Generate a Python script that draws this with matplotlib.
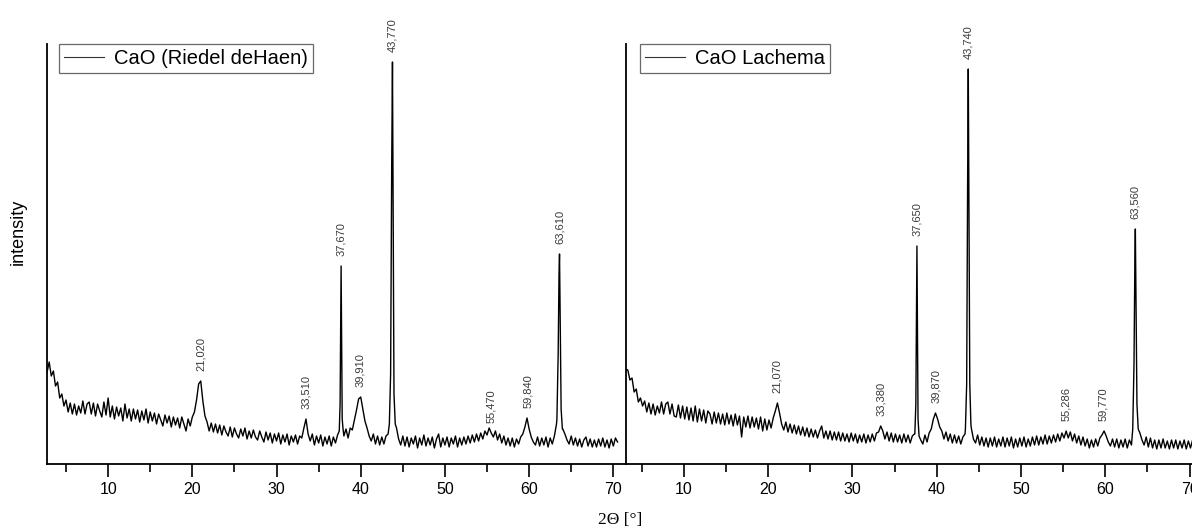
import numpy as np
import matplotlib
matplotlib.use("Agg")
import matplotlib.pyplot as plt

plt.rcParams['font.family'] = ['Liberation Sans', 'DejaVu Sans']

# left pattern: CaO (Riedel deHaen), scan read every 0.25 deg from 2.75
left_start = 2.75
left_step = 0.25
left_counts = [
    92, 102, 88, 93, 78, 82, 66, 70, 58, 64, 52, 61, 50, 60, 49, 58, 51, 63, 50, 60,
    62, 50, 61, 48, 60, 53, 47, 62, 49, 66, 47, 58, 45, 57, 48, 56, 43, 60, 46, 55,
    43, 55, 45, 54, 42, 53, 44, 55, 41, 52, 43, 51, 40, 50, 44, 38, 49, 41, 48, 37,
    47, 39, 46, 36, 47, 40, 33, 45, 38, 47, 52, 64, 80, 83, 63, 48, 42, 33, 41, 32,
    40, 31, 39, 29, 38, 32, 28, 37, 27, 36, 30, 26, 35, 28, 36, 25, 33, 26, 34, 27,
    24, 33, 27, 22, 32, 24, 31, 21, 30, 23, 31, 20, 29, 22, 30, 19, 28, 22, 29, 20,
    28, 26, 36, 45, 30, 23, 30, 19, 28, 21, 29, 18, 27, 20, 28, 18, 27, 21, 29, 32,
    40, 28, 35, 26, 36, 34, 44, 54, 65, 67, 55, 43, 36, 28, 23, 30, 20, 28, 19, 27,
    20, 28, 30, 60, 300, 60, 36, 25, 19, 28, 18, 27, 17, 26, 20, 28, 16, 26, 19, 29,
    18, 26, 19, 27, 16, 25, 30, 17, 26, 19, 27, 17, 26, 20, 28, 17, 26, 19, 27, 20,
    28, 21, 29, 22, 30, 23, 31, 25, 33, 29, 36, 31, 27, 33, 24, 30, 21, 28, 19, 26,
    18, 26, 17, 25, 20, 27, 30, 37, 46, 35, 27, 22, 19, 27, 18, 26, 19, 27, 17, 26,
    20, 28, 40, 150, 90, 35, 30, 24, 20, 28, 19, 26, 18, 25, 17, 24, 27, 18, 25, 17,
    24, 17, 25, 18, 26, 17, 24, 16, 25, 18, 26, 22,
]
left_peak_x = [
    [37.45, 37.55, 37.62, 37.67, 37.72, 37.80, 37.90],
    [43.40, 43.55, 43.68, 43.77, 43.85, 43.95, 44.10],
    [63.30, 63.45, 63.55, 63.61, 63.68, 63.80, 63.95],
]
left_peak_y = [
    [33, 60, 150, 198, 140, 45, 35],
    [40, 90, 300, 402, 250, 70, 40],
    [45, 110, 190, 210, 150, 55, 35],
]
left_label_x = [21.02, 33.51, 37.67, 39.91, 43.77, 55.47, 59.84, 63.61]
left_labels = ["21,020", "33,510", "37,670", "39,910", "43,770", "55,470", "59,840", "63,610"]

# right pattern: CaO Lachema, scan read every 0.25 deg from 3.1
right_start = 3.1
right_step = 0.25
right_counts = [
    95, 94, 84, 86, 72, 75, 62, 66, 58, 63, 52, 61, 50, 60, 49, 58, 51, 62, 50, 60,
    62, 50, 60, 48, 47, 59, 46, 58, 45, 57, 44, 56, 43, 58, 42, 55, 43, 54, 41, 53,
    50, 40, 52, 41, 51, 40, 50, 39, 51, 40, 49, 38, 50, 39, 48, 27, 47, 37, 48, 36,
    47, 37, 46, 35, 47, 33, 45, 34, 44, 36, 46, 53, 61, 51, 40, 34, 42, 32, 40, 31,
    39, 30, 38, 29, 37, 28, 36, 27, 35, 27, 34, 26, 33, 38, 26, 33, 25, 33, 24, 32,
    24, 32, 23, 31, 23, 30, 22, 31, 23, 30, 21, 29, 22, 30, 21, 29, 22, 30, 23, 31,
    32, 38, 33, 25, 32, 23, 31, 22, 30, 22, 29, 21, 30, 22, 29, 21, 28, 30, 35, 40,
    24, 20, 29, 22, 31, 35, 45, 51, 45, 37, 33, 25, 32, 23, 30, 21, 29, 21, 28, 20,
    27, 30, 60, 90, 36, 25, 21, 29, 19, 27, 18, 26, 17, 26, 18, 27, 17, 25, 18, 27,
    17, 26, 18, 27, 16, 25, 17, 26, 18, 27, 17, 25, 18, 27, 19, 28, 19, 27, 20, 29,
    20, 28, 21, 29, 22, 30, 23, 31, 26, 33, 26, 32, 23, 30, 21, 28, 19, 27, 18, 25,
    16, 24, 17, 25, 18, 26, 29, 33, 28, 22, 18, 25, 17, 25, 16, 24, 17, 25, 16, 24,
    19, 40, 200, 50, 31, 24, 19, 27, 17, 26, 16, 24, 15, 24, 16, 25, 16, 23, 15, 24,
    16, 24, 15, 23, 16, 24, 15, 23, 16, 24, 16, 23,
]
right_peak_x = [
    [37.40, 37.52, 37.60, 37.65, 37.70, 37.78, 37.90],
    [43.40, 43.55, 43.66, 43.74, 43.82, 43.92, 44.05],
    [63.25, 63.40, 63.50, 63.56, 63.63, 63.75, 63.90],
]
right_peak_y = [
    [30, 60, 160, 218, 150, 45, 28],
    [35, 80, 280, 395, 260, 80, 40],
    [35, 100, 200, 235, 170, 60, 35],
]
right_label_x = [21.07, 33.38, 37.65, 39.87, 43.74, 55.286, 59.77, 63.56]
right_labels = ["21,070", "33,380", "37,650", "39,870", "43,740", "55,286", "59,770", "63,560"]


def build(start, step, counts, peak_x, peak_y):
    x = start + step * np.arange(len(counts))
    y = np.array(counts, dtype=float)
    keep = np.ones(len(x), dtype=bool)
    for px in peak_x:
        keep &= ~((x >= min(px)) & (x <= max(px)))
    xs = np.concatenate([x[keep]] + [np.array(p, dtype=float) for p in peak_x])
    ys = np.concatenate([y[keep]] + [np.array(p, dtype=float) for p in peak_y])
    order = np.argsort(xs)
    return xs[order], ys[order]


W, H = 1192, 530
fig = plt.figure(figsize=(W / 100, H / 100), dpi=100)
fig.patch.set_facecolor('white')

ax1 = fig.add_axes([47 / W, 66 / H, 578.7 / W, 420 / H])
ax2 = fig.add_axes([625.7 / W, 66 / H, 577 / W, 420 / H])

panels = [
    (ax1, (2.74, 71.47), left_start, left_step, left_counts, left_peak_x, left_peak_y,
     left_label_x, left_labels, "CaO (Riedel deHaen)", 12),
    (ax2, (3.1, 71.55), right_start, right_step, right_counts, right_peak_x, right_peak_y,
     right_label_x, right_labels, "CaO Lachema", 14),
]

for ax, xl, st, sp, cnt, pkx, pky, lab_x, labs, name, pad in panels:
    x, y = build(st, sp, cnt, pkx, pky)
    ax.plot(x, y, color='black', lw=1.0, label=name)
    ax.set_xlim(*xl)
    ax.set_ylim(0, 420)
    ax.patch.set_alpha(0)
    for s in ['top', 'right']:
        ax.spines[s].set_visible(False)
    ax.spines['left'].set_linewidth(1.3)
    ax.spines['bottom'].set_linewidth(1.3)
    ax.set_yticks([])
    ax.set_xticks(np.arange(10, 71, 10))
    ax.set_xticks(np.arange(5, 71, 10), minor=True)
    ax.tick_params(axis='x', which='major', length=9, width=1.2, direction='out',
                   labelsize=11.5, pad=4)
    ax.tick_params(axis='x', which='minor', length=6, width=1.2, direction='out')
    for lx, lt in zip(lab_x, labs):
        near = np.abs(x - lx) < 0.2
        top = y[near].max()
        ax.annotate(lt, (lx, top), xytext=(0, 7), textcoords='offset points',
                    rotation=90, ha='center', va='bottom', fontsize=8,
                    color='#3a3a3a', annotation_clip=False)
    leg = ax.legend(loc='upper left', bbox_to_anchor=(pad / 579, 1.0),
                    borderaxespad=0, fontsize=14.5, frameon=True, fancybox=False,
                    handlelength=2.0, handletextpad=0.5, borderpad=0.25)
    leg.get_frame().set_edgecolor('#444444')
    leg.get_frame().set_linewidth(0.9)
    leg.get_lines()[0].set_linewidth(0.8)
    leg.get_lines()[0].set_color('#333333')

fig.text(18 / W, 1 - 232 / H, 'intensity', rotation=90, ha='center', va='center',
         fontsize=13)
fig.text(620 / W, 10 / H, '2Θ [°]', ha='center', va='center', fontsize=12.5,
         family=['Liberation Serif', 'DejaVu Serif'])

fig.savefig('out.png', dpi=100, facecolor='white')
